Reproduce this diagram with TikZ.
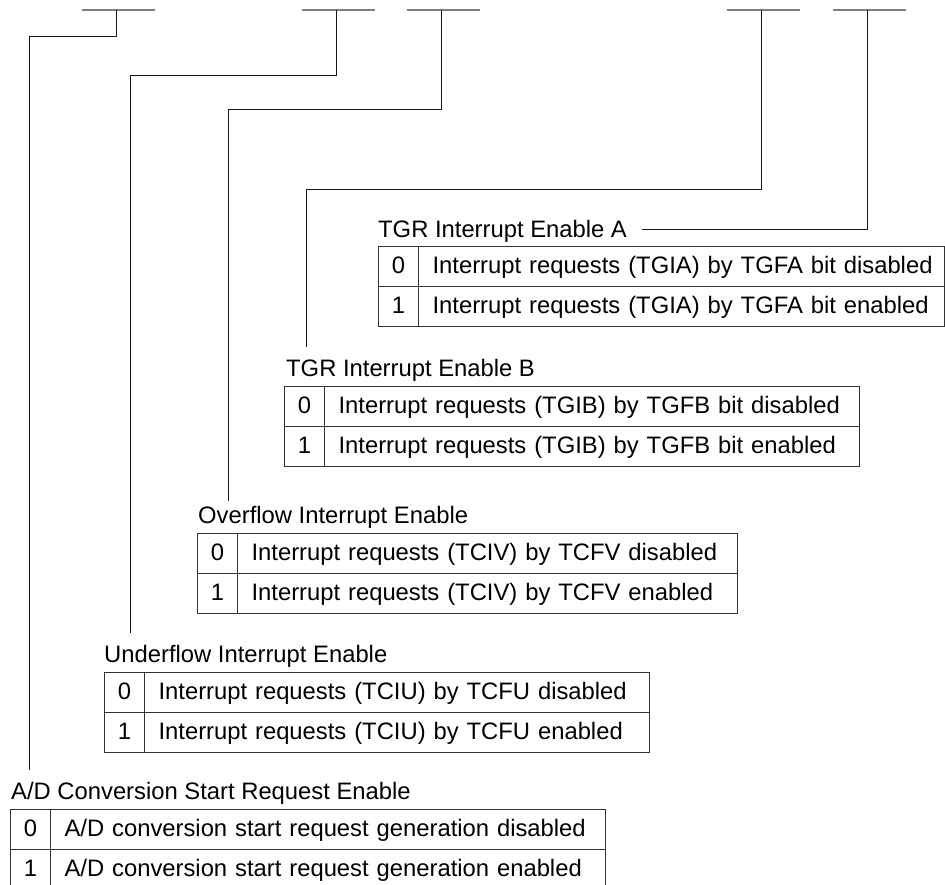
\documentclass[tikz,border=0pt]{standalone}
\usepackage{fontspec}
\setmainfont{Liberation Sans}
\newcommand\labfont{\fontsize{23.8}{28}\selectfont}
\begin{document}
\begin{tikzpicture}[x=1pt,y=-1pt,
  conn/.style={line width=0.9pt, draw=black!90},
  bitmark/.style={line width=1.6pt, draw=black!50},
  lbl/.style={anchor=base west, inner sep=0pt, font=\labfont},
  numcell/.style={draw=black!80, line width=1.1pt, anchor=north west,
    minimum width=40pt, minimum height=40pt, inner sep=0pt,
    text height=14pt, text depth=0pt, font=\labfont},
  txtcell/.style={draw=black!80, line width=1.1pt, anchor=north west,
    minimum height=40pt, inner ysep=0pt, inner xsep=14pt,
    text height=14pt, text depth=0pt, align=left, font=\labfont, text width=#1}
]
\useasboundingbox (0,0) rectangle (945,884);

% bit marks
\coordinate (m1) at (116,10);
\coordinate (m2) at (336,10);
\coordinate (m3) at (441,10);
\coordinate (m4) at (761,10);
\coordinate (m5) at (867,10);
\foreach \m in {m1,m2,m3,m4,m5}
  \draw[bitmark] ([xshift=-34.5pt]\m) -- ([xshift=38.5pt]\m);

% labels
\node[lbl] (lA) at (378,237) {TGR Interrupt Enable A};
\node[lbl] (lB) at (286,376) {TGR Interrupt Enable B};
\node[lbl] (lV) at (198,523) {Overflow Interrupt Enable};
\node[lbl] (lU) at (104,662) {Underflow Interrupt Enable};
\node[lbl] (lD) at (11,799) {A/D Conversion Start Request Enable};

% tables
\node[numcell] (tA0n) at (378,246) {0};
\node[txtcell=498pt] (tA0t) at (418,246) {\mbox{Interrupt requests (TGIA) by TGFA bit disabled}};
\node[numcell] (tA1n) at (378,286) {1};
\node[txtcell=498pt] (tA1t) at (418,286) {\mbox{Interrupt requests (TGIA) by TGFA bit enabled}};

\node[numcell] (tB0n) at (284,386) {0};
\node[txtcell=507pt] (tB0t) at (324,386) {\mbox{Interrupt requests (TGIB) by TGFB bit disabled}};
\node[numcell] (tB1n) at (284,426) {1};
\node[txtcell=507pt] (tB1t) at (324,426) {\mbox{Interrupt requests (TGIB) by TGFB bit enabled}};

\node[numcell] (tV0n) at (197,533) {0};
\node[txtcell=472pt] (tV0t) at (237,533) {\mbox{Interrupt requests (TCIV) by TCFV disabled}};
\node[numcell] (tV1n) at (197,573) {1};
\node[txtcell=472pt] (tV1t) at (237,573) {\mbox{Interrupt requests (TCIV) by TCFV enabled}};

\node[numcell] (tU0n) at (104,672) {0};
\node[txtcell=477pt] (tU0t) at (144,672) {\mbox{Interrupt requests (TCIU) by TCFU disabled}};
\node[numcell] (tU1n) at (104,712) {1};
\node[txtcell=477pt] (tU1t) at (144,712) {\mbox{Interrupt requests (TCIU) by TCFU enabled}};

\node[numcell] (tD0n) at (10,809) {0};
\node[txtcell=527pt] (tD0t) at (50,809) {\mbox{A/D conversion start request generation disabled}};
\node[numcell] (tD1n) at (10,849) {1};
\node[txtcell=527pt] (tD1t) at (50,849) {\mbox{A/D conversion start request generation enabled}};

% connector ends
\coordinate (eA) at ([shift={(15pt,8pt)}]lA.base east);
\coordinate (eB) at (306,347);
\coordinate (eV) at (228,501);
\coordinate (eU) at (130,633);
\coordinate (eD) at (29,770);

% connectors
\draw[conn] (m5) |- (eA);
\draw[conn] (m4) -- ++(0,179) -| (eB);
\draw[conn] (m3) -- ++(0,99) -| (eV);
\draw[conn] (m2) -- ++(0,65) -| (eU);
\draw[conn] (m1) -- ++(0,26) -| (eD);
\end{tikzpicture}
\end{document}
